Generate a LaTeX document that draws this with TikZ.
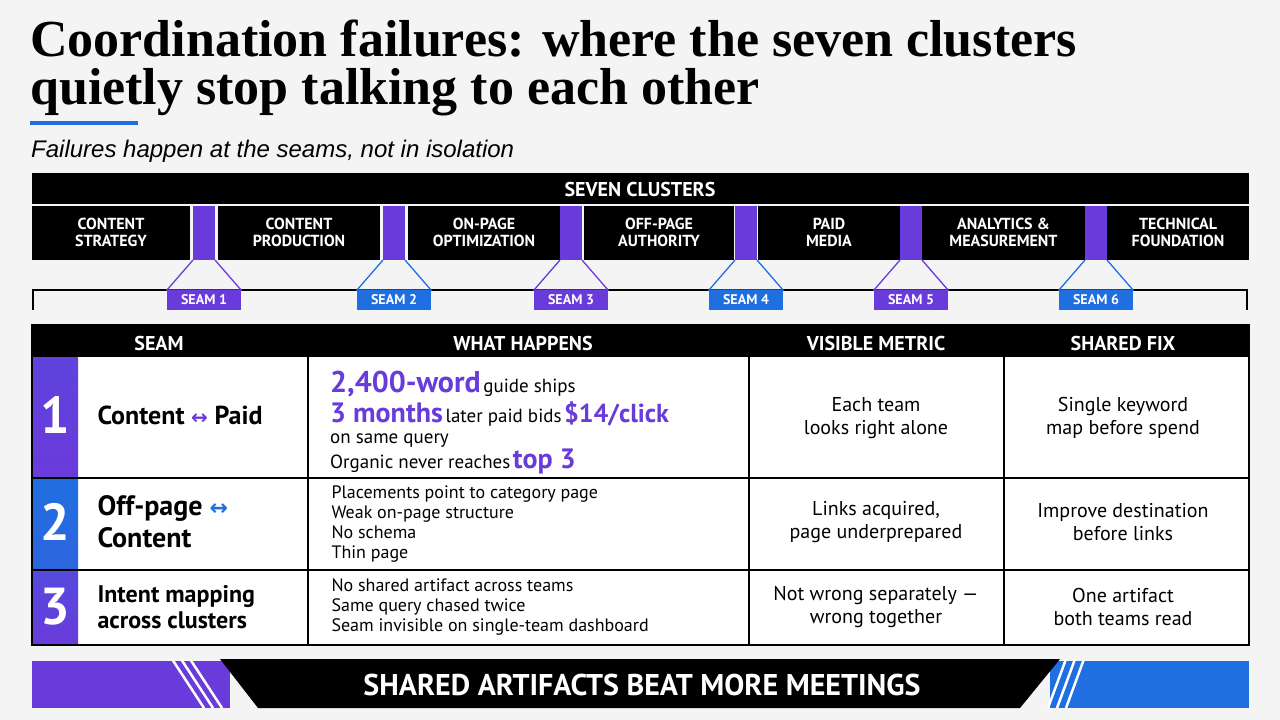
\documentclass[tikz,border=0pt]{standalone}
\usepackage{fontspec}
\setmainfont{Liberation Serif}
\newfontfamily\cond{PT Sans}
\newfontfamily\subf{Liberation Sans}
\newfontfamily\djsym{DejaVu Sans}
\begin{document}
\begin{tikzpicture}[x=1pt,y=-1pt]
\definecolor{pur}{HTML}{6A3BDB}
\definecolor{blu}{HTML}{1F6FE0}
\definecolor{bg}{HTML}{F4F4F4}
\tikzset{
 blk/.style={fill=black,draw=none},
 clab/.style={text=white,font=\cond\bfseries\fontsize{16}{17}\selectfont,align=center},
 seamlab/.style={text=white,font=\cond\bfseries\fontsize{14}{15}\selectfont,minimum width=74pt,minimum height=20pt,inner sep=0pt},
 hd/.style={text=white,font=\cond\bfseries\fontsize{20}{22}\selectfont},
 cell/.style={font=\cond\fontsize{20}{23}\selectfont,align=center},
 sm/.style={font=\cond\fontsize{18}{20}\selectfont,align=left,anchor=west},
 num/.style={text=white,font=\cond\bfseries\fontsize{52}{52}\selectfont},
 seamname/.style={font=\cond\bfseries\fontsize{26}{30}\selectfont,align=left,anchor=west},
 grid/.style={draw=black,line width=2pt}
}
\fill[bg] (0,0) rectangle (1280,720);
\useasboundingbox (0,0) rectangle (1280,720);
% title
\node[anchor=base west,inner sep=0pt,font=\bfseries\fontsize{52}{56}\selectfont] (t1) at (30,56) {Coordination failures: where the seven clusters};
\node[anchor=base west,inner sep=0pt,font=\bfseries\fontsize{52}{56}\selectfont] (t2) at (30,104) {quietly stop talking to each other};
\fill[blu] (30,121) rectangle (138,125);
\node[anchor=base west,inner sep=0pt,font=\subf\itshape\fontsize{24}{26}\selectfont] (sub) at (31,157) {Failures happen at the seams, not in isolation};
% seven clusters bar
\fill[blk] (32,173) rectangle (1249,204);
\node[hd] (sc) at (640,189) {SEVEN CLUSTERS};
\foreach \a/\b/\t [count=\i] in {32/190/{CONTENT\\STRATEGY},218/380/{CONTENT\\PRODUCTION},408/560/{ON-PAGE\\OPTIMIZATION},584/734/{OFF-PAGE\\AUTHORITY},758/900/{PAID\\MEDIA},922/1085/{ANALYTICS \&\\MEASUREMENT},1107/1249/{TECHNICAL\\FOUNDATION}}{
  \fill[blk] (\a,206) rectangle (\b,260);
  \node[clab] (cl\i) at ({(\a+\b)/2},232) {\t};
}
% bracket line
\draw[black,line width=1.5pt] (33,310) -- (33,290) -- (1247,290) -- (1247,310);
% seams
\foreach \x/\c [count=\i] in {204/pur,394/blu,571/pur,746/blu,911/pur,1096/blu}{
  \fill[pur] (\x-11,206) rectangle (\x+11,260);
  \draw[\c,line width=1.3pt] (\x-11,260) -- (\x-37,290) -- (\x+37,290) -- (\x+11,260);
  \node[seamlab,fill=\c] (s\i) at (\x,300) {SEAM \i};
}
% table
\fill[blk] (32,325) rectangle (1249,357);
\node[hd] (h1) at (159,343) {SEAM};
\node[hd] (h2) at (523,343) {WHAT HAPPENS};
\node[hd] (h3) at (876,343) {VISIBLE METRIC};
\node[hd] (h4) at (1123,343) {SHARED FIX};
\fill[white] (32,357) rectangle (1249,645);
\shade[top color=pur!85!blu,bottom color=pur] (32,357) rectangle (78,478);
\shade[top color=blu,bottom color=blu!80!pur] (32,478) rectangle (78,570);
\shade[top color=pur!70!blu,bottom color=pur] (32,570) rectangle (78,645);
\draw[grid] (32,325) rectangle (1249,645);
\draw[grid] (32,478) -- (1249,478) (32,570) -- (1249,570);
\draw[grid] (308,325) -- (308,645) (749,325) -- (749,645) (1004,325) -- (1004,645);
\node[num] (n1) at (55,415) {1};
\node[num] (n2) at (55,522) {2};
\node[num] (n3) at (55,607) {3};
\node[seamname] (r1) at (94,415) {Content {\djsym\fontsize{20}{20}\selectfont\textcolor{pur}{↔}} Paid};
\node[seamname,font=\cond\bfseries\fontsize{28}{32}\selectfont] (r2) at (94,522) {Off-page {\djsym\fontsize{22}{22}\selectfont\textcolor{blu}{↔}}\\Content};
\node[seamname,font=\cond\bfseries\fontsize{24}{26}\selectfont] (r3) at (94,607) {Intent mapping\\across clusters};
% row1 what
\node[anchor=base west,inner sep=0pt] (w11) at (330,392) {\cond{\bfseries\fontsize{30}{30}\selectfont\color{pur}2,400-word} {\fontsize{19}{20}\selectfont guide ships}};
\node[anchor=base west,inner sep=0pt] (w12) at (330,422) {\cond{\bfseries\fontsize{28}{30}\selectfont\color{pur}3 months} {\fontsize{19}{20}\selectfont later paid bids} {\bfseries\fontsize{26}{30}\selectfont\color{pur}\$14/click}};
\node[anchor=base west,inner sep=0pt] (w13) at (330,443) {\cond\fontsize{19}{20}\selectfont on same query};
\node[anchor=base west,inner sep=0pt] (w14) at (330,468) {\cond{\fontsize{19}{20}\selectfont Organic never reaches} {\bfseries\fontsize{28}{30}\selectfont\color{pur}top 3}};
\node[sm] (w2) at (328,524) {Placements point to category page\\Weak on-page structure\\No schema\\Thin page};
\node[sm] (w3) at (328,607) {No shared artifact across teams\\Same query chased twice\\Seam invisible on single-team dashboard};
\node[cell] (v1) at (876,418) {Each team\\looks right alone};
\node[cell] (v2) at (876,522) {Links acquired,\\page underprepared};
\node[cell] (v3) at (876,607) {Not wrong separately —\\wrong together};
\node[cell] (f1) at (1123,418) {Single keyword\\map before spend};
\node[cell] (f2) at (1123,522) {Improve destination\\before links};
\node[cell] (f3) at (1123,607) {One artifact\\both teams read};
% banner
\fill[pur] (32,661) rectangle (230,708);
\fill[blu] (1050,661) rectangle (1249,708);
\fill[black] (220,659) -- (1060,659) -- (1020,708) -- (258,708) -- cycle;
\foreach \d in {0,9,18}{
  \draw[white,line width=2.5pt] (172+\d,659) -- (188+\d+16,708);
  \draw[white,line width=2.5pt] (1066+\d,659) -- (1048+\d,708);
}
\node[text=white,font=\cond\bfseries\fontsize{30}{32}\selectfont] (ban) at (642,685) {SHARED ARTIFACTS BEAT MORE MEETINGS};
\end{tikzpicture}
\end{document}
